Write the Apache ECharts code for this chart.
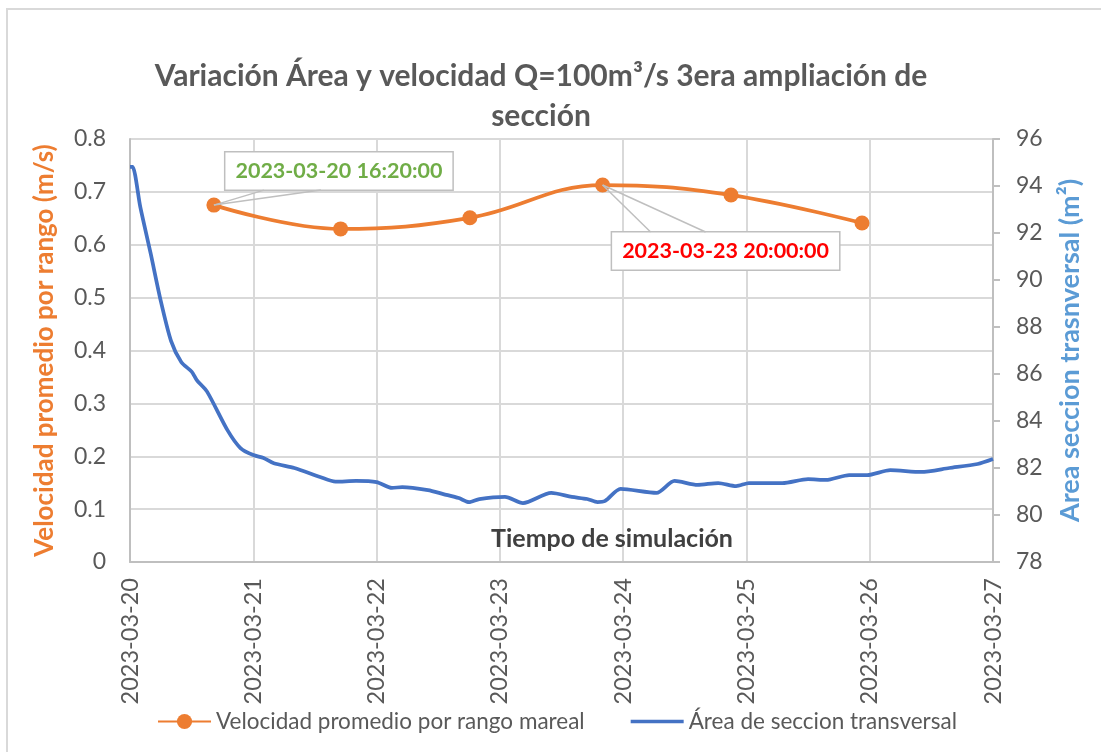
<!DOCTYPE html>
<html>
<head>
<meta charset="utf-8">
<script src="https://cdn.jsdelivr.net/npm/echarts@6/dist/echarts.min.js"></script>
<style>
  html, body { margin: 0; padding: 0; background: #fff; }
  #chart { width: 1101px; height: 752px; }
</style>
</head>
<body>
<div id="chart"></div>
<script>
// velocidad promedio por rango mareal (eje izquierdo)
var velTimes = ['2023-03-20 16:20', '2023-03-21 17:00', '2023-03-22 18:10', '2023-03-23 20:00', '2023-03-24 21:00', '2023-03-25 22:30'];
var velValues = [0.675, 0.630, 0.651, 0.713, 0.694, 0.641];
var velLabels = ['2023-03-20 16:20:00', '', '', '2023-03-23 20:00:00', '', ''];
var velLabelColors = ['#70AD47', null, null, '#FF0000', null, null];

// area de seccion transversal (eje derecho)
var areaTimes = [
    '2023-03-20 00:00', '2023-03-20 00:30', '2023-03-20 02:00', '2023-03-20 04:00', '2023-03-20 06:00',
    '2023-03-20 08:00', '2023-03-20 10:00', '2023-03-20 12:00', '2023-03-20 13:00', '2023-03-20 15:00',
    '2023-03-20 19:00', '2023-03-20 21:30', '2023-03-21 00:00', '2023-03-21 02:00', '2023-03-21 04:00',
    '2023-03-21 08:00', '2023-03-21 13:00', '2023-03-21 16:00', '2023-03-21 20:00', '2023-03-22 00:00',
    '2023-03-22 03:00', '2023-03-22 05:00', '2023-03-22 10:00', '2023-03-22 13:00', '2023-03-22 16:00',
    '2023-03-22 18:00', '2023-03-22 20:00', '2023-03-23 01:00', '2023-03-23 04:30', '2023-03-23 10:00',
    '2023-03-23 14:00', '2023-03-23 17:00', '2023-03-23 19:00', '2023-03-23 20:30', '2023-03-23 23:30',
    '2023-03-24 06:30', '2023-03-24 10:00', '2023-03-24 14:30', '2023-03-24 18:30', '2023-03-24 22:00',
    '2023-03-25 00:30', '2023-03-25 07:00', '2023-03-25 12:00', '2023-03-25 15:30', '2023-03-25 20:00',
    '2023-03-25 23:30', '2023-03-26 04:00', '2023-03-26 10:00', '2023-03-26 15:30', '2023-03-26 21:00',
    '2023-03-27 00:00'
];
var areaValues = [
    94.81, 94.81, 93.11, 91.15, 89.10,
    87.40, 86.50, 86.10, 85.74, 85.25,
    83.60, 82.85, 82.55, 82.43, 82.20,
    82.00, 81.62, 81.42, 81.45, 81.40,
    81.15, 81.19, 81.06, 80.89, 80.72,
    80.55, 80.68, 80.77, 80.51, 80.94,
    80.77, 80.68, 80.55, 80.60, 81.11,
    80.94, 81.45, 81.28, 81.36, 81.23,
    81.36, 81.36, 81.53, 81.49, 81.70,
    81.70, 81.91, 81.83, 82.00, 82.17,
    82.38
];

var xMin = '2023-03-20 00:00';
var xMax = '2023-03-27 00:00';
var DAY = 24 * 3600 * 1000;

var fontName = 'Lato';
var gris = '#595959';

// desplazamiento de los rotulos (caja) y de la cuña respecto al punto
var labelShift = { 0: [125, -34], 3: [123, 66] };
var wedgeEnds = { 0: [[50, -15], [107, -15]], 3: [[48, 47], [103, 47]] };

var velData = velTimes.map(function (t, i) {
    var item = { value: [t, velValues[i]], name: velLabels[i] };
    if (velLabelColors[i]) item.label = { show: true, color: velLabelColors[i] };
    return item;
});
var areaData = areaTimes.map(function (t, i) {
    return [t, areaValues[i]];
});

var chart = echarts.init(document.getElementById('chart'));
var option = {
    animation: false,
    textStyle: { fontFamily: fontName },
    title: [
        {
            text: 'Variación Área y velocidad Q=100m³/s 3era ampliación de\nsección',
            left: 536,
            top: 51,
            textAlign: 'center',
            textStyle: { fontFamily: fontName, fontSize: 30, fontWeight: 'bold', color: gris, lineHeight: 40 }
        },
        {
            text: 'Tiempo de simulación',
            left: 607,
            top: 521,
            textAlign: 'center',
            textStyle: { fontFamily: fontName, fontSize: 25, fontWeight: 'bold', color: '#404040' }
        }
    ],
    graphic: [{
        type: 'rect',
        shape: { x: 7, y: 9, width: 1120, height: 780 },
        style: { fill: 'none', stroke: '#D9D9D9', lineWidth: 2 },
        silent: true
    }],
    legend: {
        bottom: 14,
        left: 152,
        itemWidth: 53,
        itemHeight: 19,
        itemGap: 46,
        textStyle: { fontFamily: fontName, fontSize: 22.5, color: gris },
        data: [
            { name: 'Velocidad promedio por rango mareal' },
            { name: 'Área de seccion transversal', icon: 'path://M0,0 L53,0 L53,3.5 L0,3.5 Z' }
        ]
    },
    grid: { left: 130, right: 108, top: 139, bottom: 190 },
    xAxis: {
        type: 'time',
        min: xMin,
        max: xMax,
        interval: DAY,
        minInterval: DAY,
        maxInterval: DAY,
        axisLine: { lineStyle: { color: '#BFBFBF', width: 2 } },
        axisTick: { show: false },
        splitLine: { show: true, lineStyle: { color: '#D9D9D9', width: 2 } },
        axisLabel: {
            rotate: 90,
            margin: 16,
            fontSize: 23.5,
            color: gris,
            fontFamily: fontName,
            showMinLabel: true,
            showMaxLabel: true,
            formatter: '{yyyy}-{MM}-{dd}'
        }
    },
    yAxis: [
        {
            type: 'value',
            min: 0,
            max: 0.8,
            interval: 0.1,
            name: 'Velocidad promedio por rango (m/s)',
            nameLocation: 'middle',
            nameGap: 72,
            nameTextStyle: { fontFamily: fontName, fontSize: 26, fontWeight: 'bold', color: '#ED7D31' },
            axisLine: { show: true, lineStyle: { color: '#BFBFBF', width: 2 } },
            axisTick: { show: false },
            splitLine: { lineStyle: { color: '#D9D9D9', width: 2 } },
            axisLabel: {
                margin: 24,
                fontSize: 23,
                color: gris,
                fontFamily: fontName,
                formatter: function (v) { return v === 0 ? '0' : v.toFixed(1); }
            }
        },
        {
            type: 'value',
            min: 78,
            max: 96,
            interval: 2,
            name: 'Area seccion trasnversal (m²)',
            nameLocation: 'middle',
            nameGap: 64,
            nameRotate: 90,
            nameTextStyle: { fontFamily: fontName, fontSize: 27, fontWeight: 'bold', color: '#5B9BD5' },
            axisLine: { show: true, lineStyle: { color: '#BFBFBF', width: 2 } },
            axisTick: { show: true, length: 7, lineStyle: { color: '#BFBFBF', width: 2 } },
            splitLine: { show: false },
            axisLabel: { margin: 23, fontSize: 23, color: gris, fontFamily: fontName }
        }
    ],
    series: [
        {
            name: 'Velocidad promedio por rango mareal',
            type: 'line',
            yAxisIndex: 0,
            smooth: 0.4,
            symbol: 'circle',
            symbolSize: 15,
            lineStyle: { color: '#ED7D31', width: 3.75 },
            itemStyle: { color: '#ED7D31' },
            data: velData,
            z: 3,
            label: {
                show: false,
                position: 'inside',
                formatter: function (p) { return p.name; },
                fontFamily: fontName,
                fontSize: 21.5,
                fontWeight: 'bold',
                backgroundColor: '#fff',
                borderColor: '#BFBFBF',
                borderWidth: 1.5,
                padding: [8, 10, 7, 10]
            },
            labelLayout: function (p) {
                var s = labelShift[p.dataIndex];
                return s ? { dx: s[0], dy: s[1] } : {};
            }
        },
        {
            name: 'Área de seccion transversal',
            type: 'line',
            yAxisIndex: 1,
            smooth: 0.25,
            symbol: 'none',
            lineStyle: { color: '#4472C4', width: 3.75 },
            itemStyle: { color: '#4472C4' },
            data: areaData,
            z: 2
        }
    ]
};
chart.setOption(option);

// cuña (lineas guia) de los rotulos, desde el punto hasta la caja
var guides = [];
Object.keys(wedgeEnds).forEach(function (k) {
    var i = +k;
    var p = chart.convertToPixel({ xAxisIndex: 0, yAxisIndex: 0 }, [velTimes[i], velValues[i]]);
    wedgeEnds[k].forEach(function (e) {
        guides.push({
            type: 'line',
            silent: true,
            z: 10,
            shape: { x1: p[0], y1: p[1], x2: p[0] + e[0], y2: p[1] + e[1] },
            style: { stroke: '#BFBFBF', lineWidth: 1.5 }
        });
    });
});
chart.setOption({ graphic: option.graphic.concat(guides) });
</script>
</body>
</html>
